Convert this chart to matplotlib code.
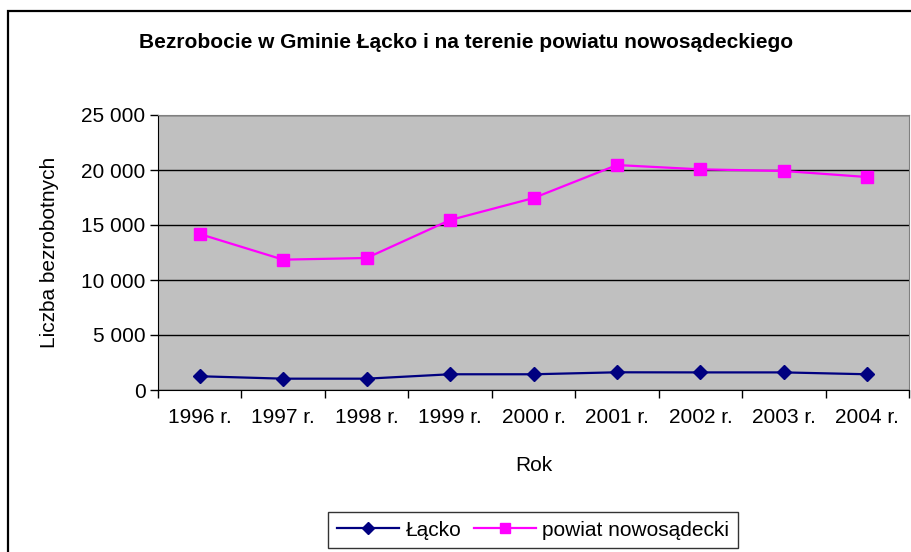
import matplotlib
matplotlib.use("Agg")
import matplotlib.pyplot as plt
import matplotlib.patches as patches
from matplotlib.ticker import FuncFormatter, FixedLocator

plt.rcParams["font.family"] = ["Liberation Sans", "DejaVu Sans"]

years = ["1996 r.", "1997 r.", "1998 r.", "1999 r.", "2000 r.",
         "2001 r.", "2002 r.", "2003 r.", "2004 r."]
lacko = [1250, 1030, 1030, 1430, 1430, 1610, 1600, 1600, 1430]
powiat = [14180, 11850, 12000, 15450, 17450, 20450, 20060, 19910, 19360]

fig = plt.figure(figsize=(9.11, 5.52), dpi=100)
ax = fig.add_axes([158 / 911, 1 - 390 / 552, 751 / 911, 275 / 552])

# outer chart frame (cut off at right and bottom like the original)
fig.patches.append(patches.Rectangle((8 / 911, -0.1), 1.2, 1.1 - 11 / 552,
                                     transform=fig.transFigure, fill=False,
                                     edgecolor="black", linewidth=1.6))

x = list(range(len(years)))
ax.set_facecolor("#C0C0C0")
ax.plot(x, lacko, color="#000080", marker="D", markersize=7, linewidth=1.6,
        label="Łącko", zorder=3)
ax.plot(x, powiat, color="#FF00FF", marker="s", markersize=8, linewidth=1.6,
        label="powiat nowosądecki", zorder=3)

ax.set_xlim(-0.5, len(years) - 0.5)
ax.set_ylim(0, 25000)
ax.set_yticks(range(0, 25001, 5000))
ax.yaxis.set_major_formatter(FuncFormatter(lambda v, p: f"{int(v):,}".replace(",", " ")))
ax.grid(axis="y", color="black", linewidth=1.0)
ax.set_axisbelow(True)

ax.xaxis.set_major_locator(FixedLocator([i - 0.5 for i in range(len(years) + 1)]))
ax.xaxis.set_major_formatter(FuncFormatter(lambda v, p: ""))
ax.xaxis.set_minor_locator(FixedLocator(x))
ax.set_xticklabels(years, minor=True)
ax.tick_params(axis="x", which="major", length=6, width=1, color="black")
ax.tick_params(axis="x", which="minor", length=0, pad=13, labelsize=15)
ax.tick_params(axis="y", length=6, width=1, labelsize=15, pad=3)

for s in ["top", "right"]:
    ax.spines[s].set_color("#808080")
for s in ["left", "bottom"]:
    ax.spines[s].set_color("black")

ax.set_xlabel("Rok", fontsize=15, labelpad=21)
ax.set_ylabel("Liczba bezrobotnych", fontsize=15, labelpad=16)

fig.text(0.512, 1 - 42 / 552, "Bezrobocie w Gminie Łącko i na terenie powiatu nowosądeckiego",
         ha="center", va="center", fontsize=15, fontweight="bold")

leg = fig.legend(loc="center", bbox_to_anchor=(533 / 911, 1 - 530 / 552), ncol=2,
                 frameon=True, fancybox=False, edgecolor="black", fontsize=15,
                 handlelength=3.0, columnspacing=0.6, handletextpad=0.3,
                 borderpad=0.4, markerscale=0.85)
leg.get_frame().set_linewidth(1.0)

plt.savefig("out.png", dpi=100)
